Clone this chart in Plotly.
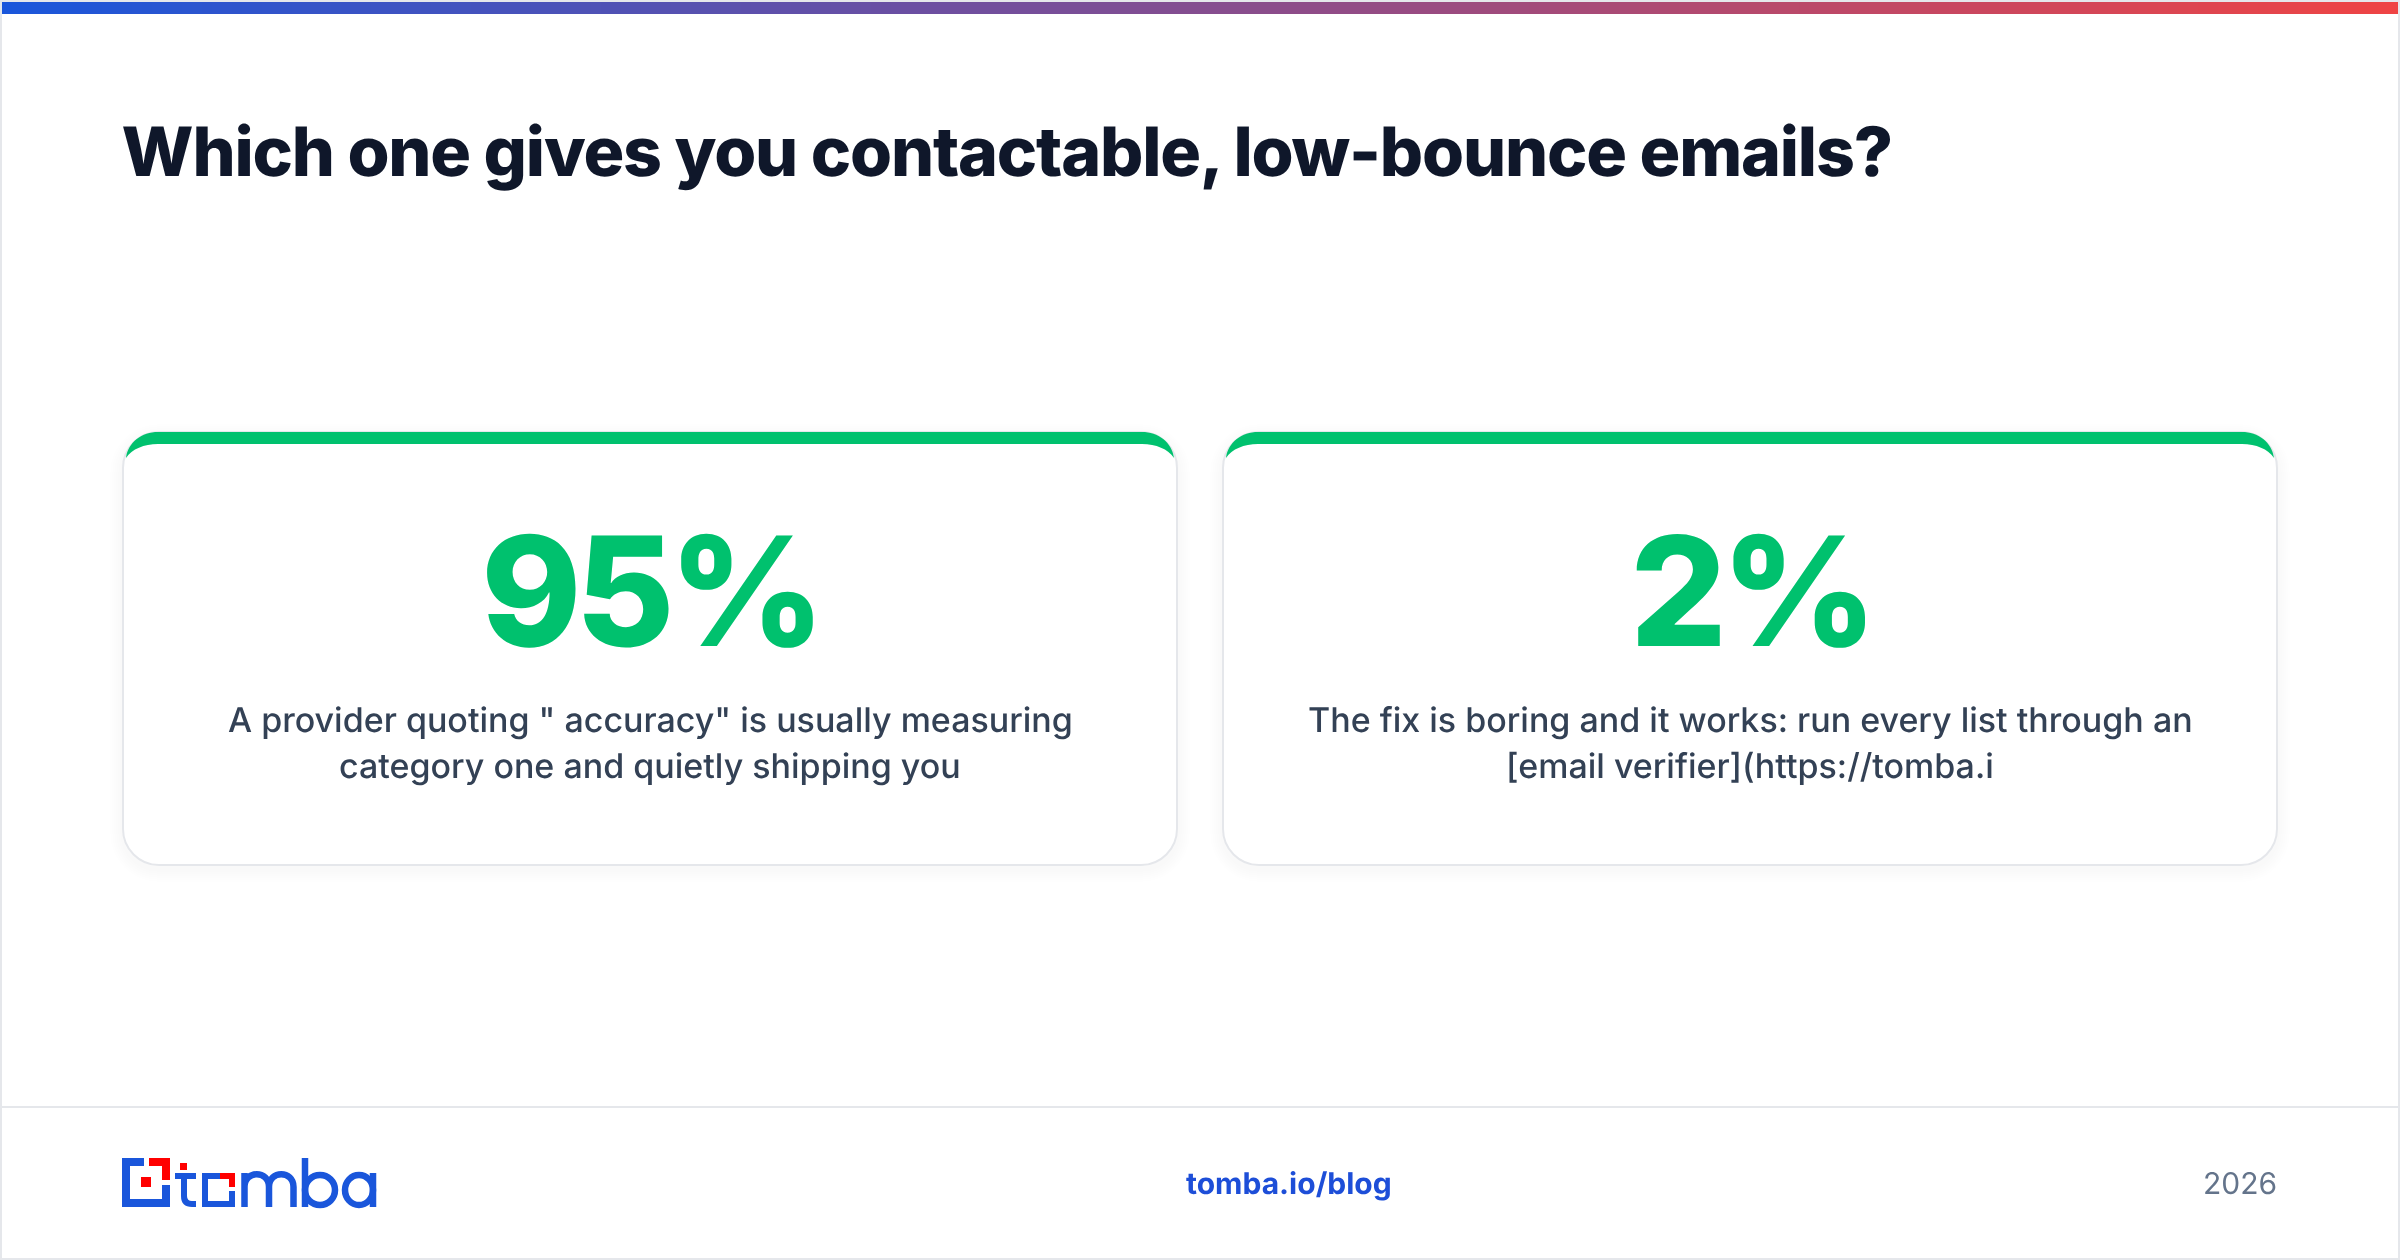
import plotly.graph_objects as go

title = "Which one gives you contactable, low-bounce emails?"
stat_values = ["95%", "2%"]
stat_lines = [
    ['A provider quoting " accuracy" is usually measuring', "category one and quietly shipping you"],
    ["The fix is boring and it works: run every list through an", "[email verifier](https://tomba.i"],
]
footer_link = "tomba.io/blog"
footer_year = "2026"

BLUE = "#1a56db"
RED = "#ff0000"
GREEN = "#00c16e"
BORDER = "#e5e7eb"
card_left = [122, 1222]
card_w = 1056
card_top = 432
card_bottom = 866
rad = 36


def rounded(x0, y0, x1, y1, r):
    k = r * 0.45
    return (f"M{x0+r},{y0} L{x1-r},{y0} C{x1-k},{y0} {x1},{y0+k} {x1},{y0+r} "
            f"L{x1},{y1-r} C{x1},{y1-k} {x1-k},{y1} {x1-r},{y1} "
            f"L{x0+r},{y1} C{x0+k},{y1} {x0},{y1-k} {x0},{y1-r} "
            f"L{x0},{y0+r} C{x0},{y0+k} {x0+k},{y0} {x0+r},{y0} Z")


shapes = []
annotations = []


def rect(x0, y0, x1, y1, color):
    shapes.append(dict(type="rect", x0=x0, y0=y0, x1=x1, y1=y1, fillcolor=color, line_width=0, layer="above"))


def text(x, y, s, size, color, weight=400, anchor="center"):
    annotations.append(dict(x=x, y=y, text=s, showarrow=False, xanchor=anchor, yanchor="middle",
                            font=dict(family="Inter", size=size, color=color, weight=weight)))


# frame
shapes.append(dict(type="rect", x0=1, y0=1, x1=2399, y1=1259, line=dict(color=BORDER, width=2), fillcolor="white", layer="below"))

# cards
for left, value, lines in zip(card_left, stat_values, stat_lines):
    right = left + card_w
    for grow in range(12, 0, -2):
        shapes.append(dict(type="path", path=rounded(left - grow, card_top - grow + 4, right + grow, card_bottom + grow + 4, rad + grow),
                           fillcolor="rgba(15,23,42,0.005)", line_width=0, layer="below"))
    shapes.append(dict(type="path", path=rounded(left + 1, card_top, right - 1, card_bottom - 1, rad),
                       fillcolor="white", line=dict(color=BORDER, width=2), layer="below"))
    # green crescent along the top edge
    a = left + 4
    b = right - 4
    band = (f"M{a},{card_top+26} C{a+2},{card_top+10} {a+16},{card_top} {left+36},{card_top} "
            f"L{right-36},{card_top} C{b-16},{card_top} {b-2},{card_top+10} {b},{card_top+26} "
            f"C{b-6},{card_top+17} {b-18},{card_top+12} {right-36},{card_top+12} "
            f"L{left+36},{card_top+12} C{a+18},{card_top+12} {a+6},{card_top+17} {a},{card_top+26} Z")
    shapes.append(dict(type="path", path=band, fillcolor=GREEN, line_width=0, layer="above"))
    mid = left + card_w / 2
    text(mid, 591, value, 152, GREEN, 850)
    text(mid, 719, lines[0], 34, "#334155", 500)
    text(mid, 765, lines[1], 34, "#334155", 500)

text(88.5, 151, title, 68, "#0f172a", 800, "left")

# footer
rect(2, 1106, 2398, 1108, BORDER)
text(1289, 1183, footer_link, 30, "#1d4ed8", 700)
text(2279, 1183, footer_year, 30, "#64748b", 400, "right")

# logo
rect(122, 1158, 144, 1166, BLUE)
rect(122, 1158, 130, 1207, BLUE)
rect(122, 1199, 170, 1207, BLUE)
rect(162, 1185, 170, 1207, BLUE)
rect(149, 1158, 170, 1166, RED)
rect(162, 1158, 170, 1180, RED)
rect(141, 1177, 151, 1187, RED)
rect(180, 1163, 187, 1170, RED)
rect(175, 1173, 196, 1179, BLUE)
shapes.append(dict(type="path", path="M184,1179 L184,1196 Q184,1204 192,1204 L196,1204",
                   line=dict(color=BLUE, width=6), layer="above"))
rect(202, 1173, 220, 1179, BLUE)
rect(202, 1173, 208, 1207, BLUE)
rect(202, 1201, 235, 1207, BLUE)
rect(229, 1191, 235, 1207, BLUE)
rect(220, 1173, 235, 1179, RED)
rect(229, 1173, 235, 1187, RED)
shapes.append(dict(type="path", path="M244.5,1207 L244.5,1173 M244.5,1187 C244.5,1170 269,1170 269,1187 L269,1207 M269,1187 C269,1170 293.5,1170 293.5,1187 L293.5,1207",
                   line=dict(color=BLUE, width=6.5), layer="above"))
shapes.append(dict(type="path", path="M305,1158 L305,1207", line=dict(color=BLUE, width=6.5), layer="above"))
shapes.append(dict(type="circle", x0=305, y0=1175, x1=335, y1=1205, line=dict(color=BLUE, width=6.5), layer="above"))
shapes.append(dict(type="circle", x0=345, y0=1175, x1=373, y1=1205, line=dict(color=BLUE, width=6.5), layer="above"))
shapes.append(dict(type="path", path="M373,1173 L373,1207", line=dict(color=BLUE, width=6.5), layer="above"))

# gradient bar along the top
steps = 240
fig = go.Figure(go.Heatmap(z=[list(range(steps))], x0=2 + 2396 / steps / 2, dx=2396 / steps, y0=8, dy=12,
                           colorscale=[[0, "rgb(26,86,219)"], [1, "rgb(239,68,68)"]],
                           showscale=False, hoverinfo="skip"))
fig.update_layout(width=2400, height=1260, margin=dict(l=0, r=0, t=0, b=0),
                  paper_bgcolor="white", plot_bgcolor="white",
                  shapes=shapes, annotations=annotations, showlegend=False)
fig.update_xaxes(range=[0, 2400], visible=False, fixedrange=True)
fig.update_yaxes(range=[1260, 0], visible=False, fixedrange=True)

# plotly has no letter spacing option for annotations
spacing = """
document.body.style.margin='0';document.body.style.overflow='hidden';
document.querySelectorAll('.main-svg').forEach(function(s){s.style.willChange='transform';});
document.querySelectorAll('.annotation-text').forEach(function(t){
  var s=parseFloat(t.style.fontSize);
  t.style.textRendering='geometricPrecision';
  if(s>100){t.style.letterSpacing='-6px';}
  else if(s>60){t.style.letterSpacing='-1.2px';}
});
"""
fig.write_html("out.html", post_script=spacing, config=dict(displayModeBar=False))
